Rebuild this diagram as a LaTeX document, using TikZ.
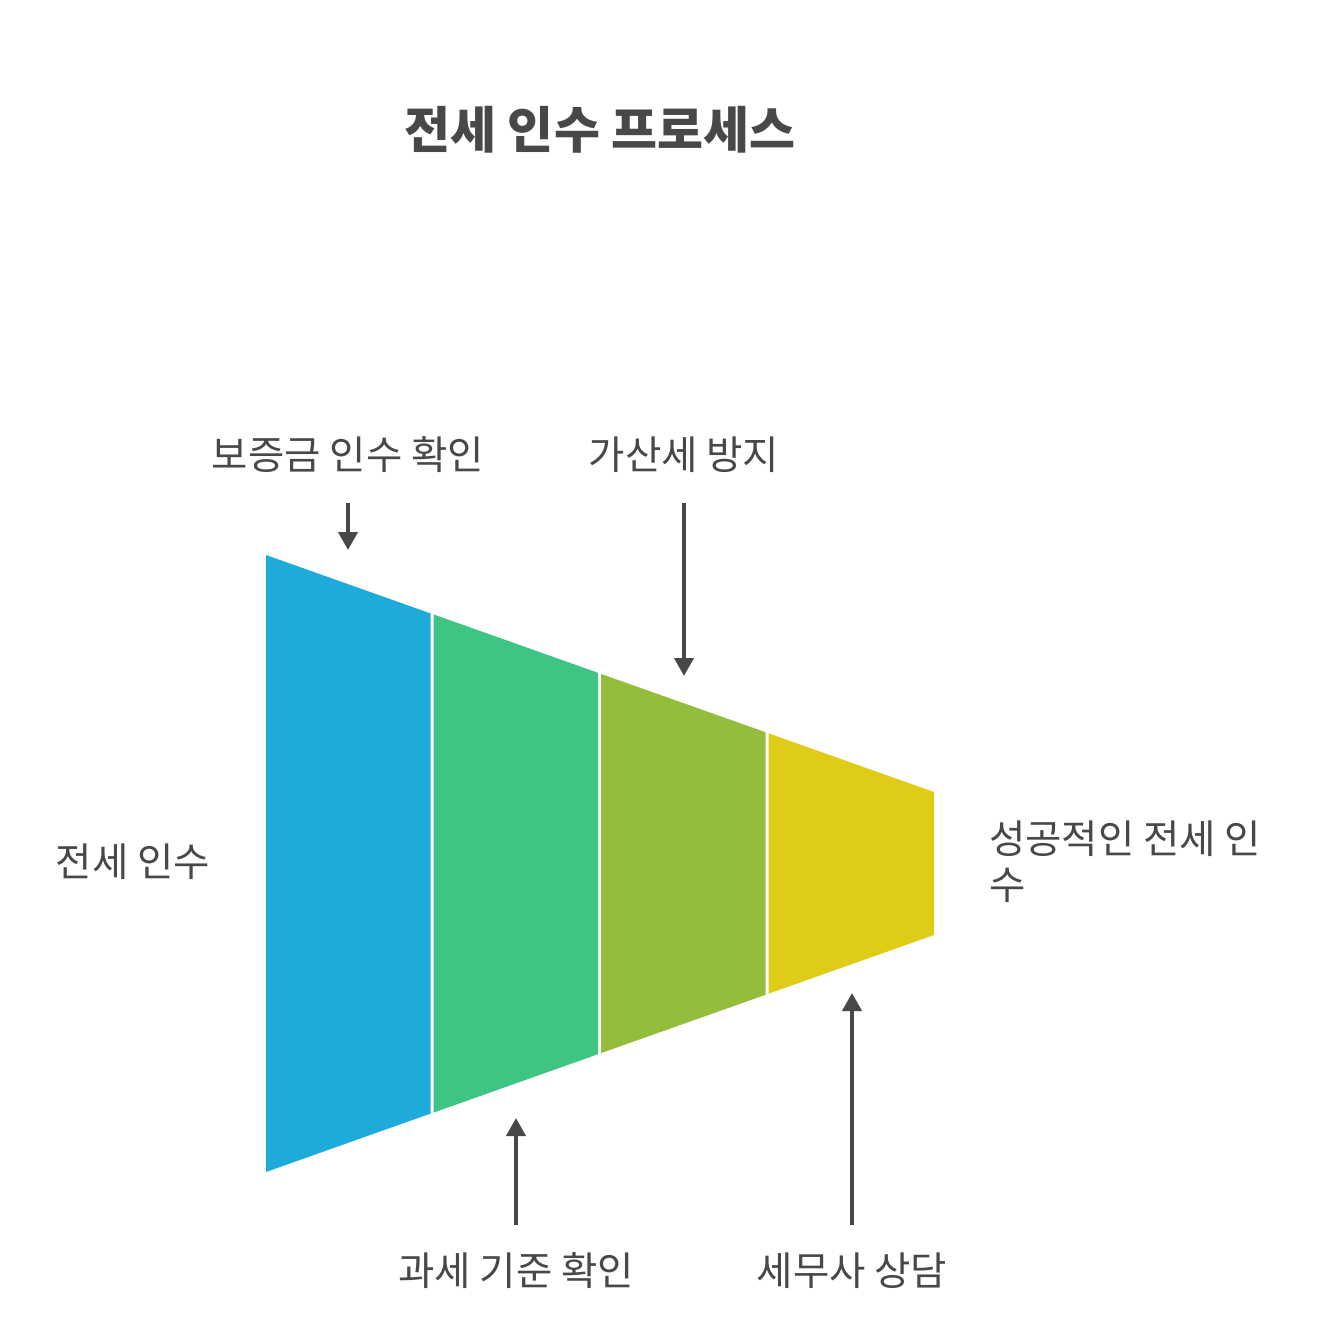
\documentclass[tikz,border=0pt]{standalone}
\usepackage{fontspec}
\setmainfont{Noto Sans CJK KR}
\usetikzlibrary{arrows.meta}
\definecolor{txt}{HTML}{484848}
\definecolor{segA}{HTML}{1FABD9}
\definecolor{segB}{HTML}{3EC584}
\definecolor{segC}{HTML}{93BD3A}
\definecolor{segD}{HTML}{DFCC17}
\tikzset{
  lbl/.style={text=txt, font=\fontsize{39.5}{46}\selectfont, inner sep=0pt},
  ttl/.style={text=txt, font=\fontsize{50}{60}\selectfont\bfseries, inner sep=0pt},
  arr/.style={draw=txt, line width=4pt, -{Triangle[width=19pt,length=18pt]}},
}
\begin{document}
\begin{tikzpicture}[x=1pt,y=-1pt]
\useasboundingbox (0,0) rectangle (1320,1327);
\fill[white] (0,0) rectangle (1320,1327);
% title
\node[ttl] (title) at (600,130) {전세 인수 프로세스};
% funnel segments
\fill[segA] (266,555) -- (430.5,613.4) -- (430.5,1113.6) -- (266,1172) -- cycle;
\fill[segB] (433.5,614.4) -- (598,672.8) -- (598,1054.2) -- (433.5,1112.6) -- cycle;
\fill[segC] (601,673.9) -- (765.5,732.2) -- (765.5,994.8) -- (601,1053.1) -- cycle;
\fill[segD] (768.5,733.3) -- (934,792) -- (934,935) -- (768.5,993.7) -- cycle;
% labels
\node[lbl] (l1) at (348,455) {보증금 인수 확인};
\node[lbl] (l2) at (684,455) {가산세 방지};
\node[lbl] (l3) at (516,1271) {과세 기준 확인};
\node[lbl] (l4) at (852,1271) {세무사 상담};
\node[lbl] (start) at (133,862) {전세 인수};
\node[lbl, anchor=west, align=left] (end) at (989,862) {성공적인 전세 인\\수};
% arrow coordinates
\coordinate (a1s) at (348,503);
\coordinate (a1e) at (348,550);
\coordinate (a2s) at (684,503);
\coordinate (a2e) at (684,676);
\coordinate (a3s) at (516,1225);
\coordinate (a3e) at (516,1118);
\coordinate (a4s) at (852,1225);
\coordinate (a4e) at (852,993);
\draw[arr] (a1s) -- (a1e);
\draw[arr] (a2s) -- (a2e);
\draw[arr] (a3s) -- (a3e);
\draw[arr] (a4s) -- (a4e);
\end{tikzpicture}
\end{document}
